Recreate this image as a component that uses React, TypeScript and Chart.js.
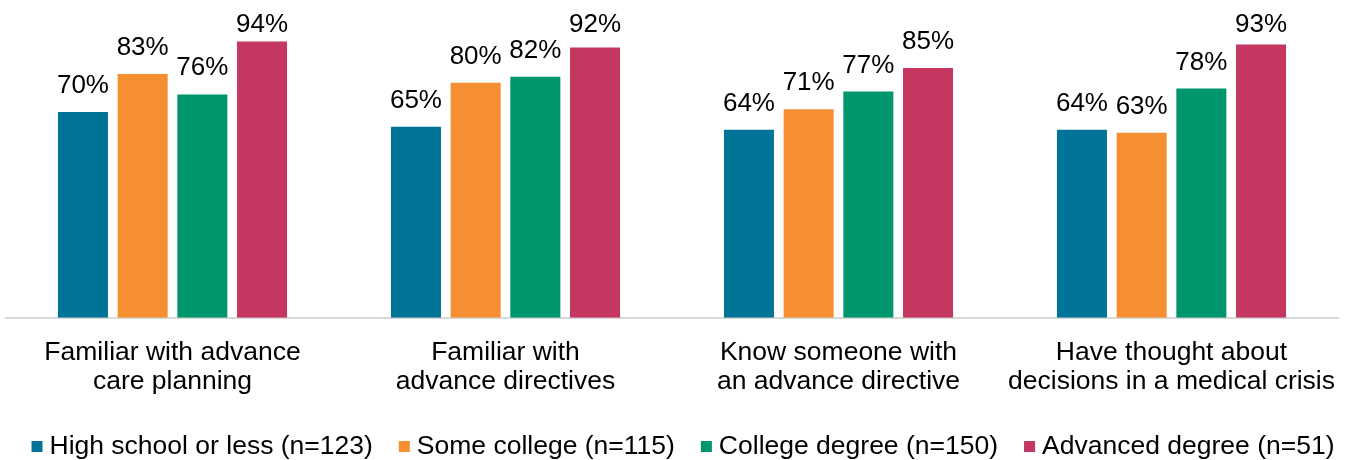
import React, { useEffect, useRef } from "react";
import { Chart, registerables } from "chart.js";

Chart.register(...registerables);

const categories: string[][] = [
  ["Familiar with advance", "care planning"],
  ["Familiar with", "advance directives"],
  ["Know someone with", "an advance directive"],
  ["Have thought about", "decisions in a medical crisis"],
];

const seriesNames = [
  "High school or less (n=123)",
  "Some college (n=115)",
  "College degree (n=150)",
  "Advanced degree (n=51)",
];

const highSchool = [70, 65, 64, 64];
const someCollege = [83, 80, 71, 63];
const collegeDegree = [76, 82, 77, 78];
const advancedDegree = [94, 92, 85, 93];

const colors = ["#007398", "#F68F31", "#00966D", "#C33761"];

const FONT = "Arial, 'Liberation Sans', sans-serif";

const valueLabels = {
  id: "valueLabels",
  afterDatasetsDraw(chart: any) {
    const ctx = chart.ctx;
    ctx.save();
    ctx.font = `26px ${FONT}`;
    ctx.fillStyle = "#000";
    ctx.textAlign = "center";
    ctx.textBaseline = "alphabetic";
    chart.data.datasets.forEach((ds: any, di: number) => {
      const meta = chart.getDatasetMeta(di);
      meta.data.forEach((el: any, i: number) => {
        const y = Math.max(el.y - 19, 32);
        ctx.fillText(`${ds.data[i]}%`, el.x, y);
      });
    });
    ctx.restore();
  },
};

const bottomLegend = {
  id: "bottomLegend",
  afterDraw(chart: any) {
    const ctx = chart.ctx;
    ctx.save();
    ctx.font = `26.5px ${FONT}`;
    const box = 11;
    const boxGap = 7;
    const itemGap = 26;
    const items = chart.data.datasets.map((ds: any) => ({
      label: ds.label,
      color: ds.backgroundColor,
      w: box + boxGap + ctx.measureText(ds.label).width,
    }));
    const total =
      items.reduce((s: number, it: any) => s + it.w, 0) +
      itemGap * (items.length - 1);
    let x = 683 - total / 2;
    const baseline = 454;
    items.forEach((it: any) => {
      ctx.fillStyle = it.color;
      ctx.fillRect(x, 441, box, box);
      ctx.fillStyle = "#000";
      ctx.textAlign = "left";
      ctx.textBaseline = "alphabetic";
      ctx.fillText(it.label, x + box + boxGap, baseline);
      x += it.w + itemGap;
    });
    ctx.restore();
  },
};

export default function App() {
  const ref = useRef<HTMLCanvasElement | null>(null);

  useEffect(() => {
    if (!ref.current) return;
    const data = [highSchool, someCollege, collegeDegree, advancedDegree];
    const chart = new Chart(ref.current, {
      type: "bar",
      data: {
        labels: categories,
        datasets: seriesNames.map((name, i) => ({
          label: name,
          data: data[i],
          backgroundColor: colors[i],
          borderWidth: 0,
          categoryPercentage: 0.717,
          barPercentage: 0.838,
        })),
      },
      options: {
        animation: false,
        responsive: false,
        layout: { padding: { top: 24, left: 6, right: 13, bottom: 43 } },
        plugins: {
          legend: { display: false },
          tooltip: { enabled: false },
          title: { display: false },
        },
        scales: {
          x: {
            grid: { display: false, drawTicks: false },
            border: { display: true, color: "#D9D9D9", width: 2 },
            ticks: {
              color: "#000",
              font: { size: 26.5, family: FONT, lineHeight: 1.12 },
              padding: 20,
              maxRotation: 0,
              autoSkip: false,
            },
            afterFit: (scale: any) => {
              scale.paddingLeft = 0;
              scale.paddingRight = 0;
            },
          },
          y: {
            display: false,
            min: 0,
            max: 100,
          },
        },
      },
      plugins: [valueLabels, bottomLegend],
    });
    return () => chart.destroy();
  }, []);

  return (
    <div style={{ position: "fixed", left: 0, top: 0, width: 1351, height: 460, background: "#fff" }}>
      <canvas ref={ref} width={1351} height={460} />
    </div>
  );
}
